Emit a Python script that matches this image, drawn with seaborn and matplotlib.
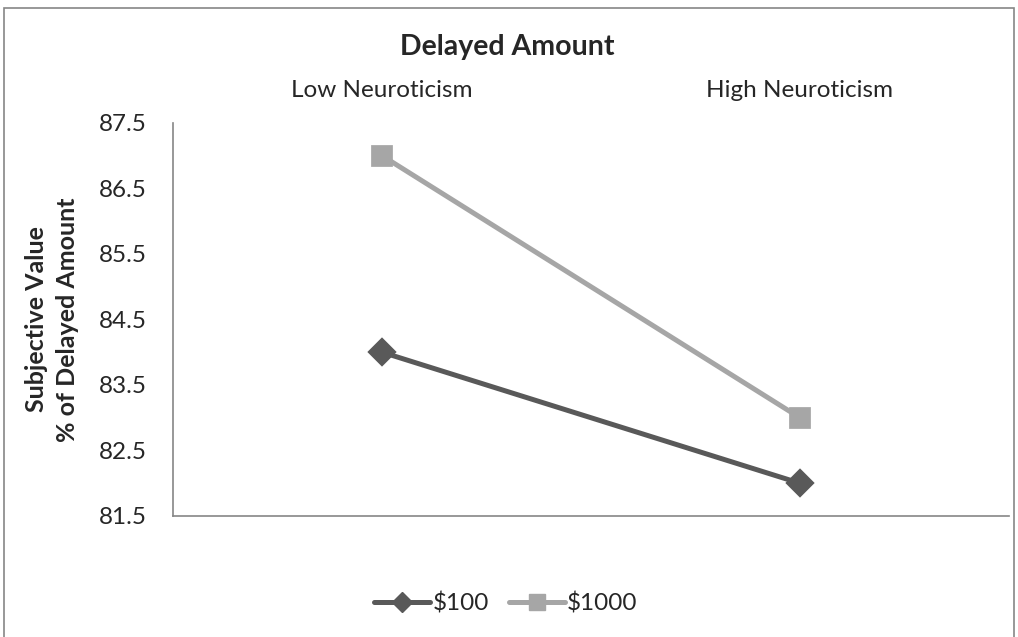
import numpy as np
import pandas as pd
import matplotlib
matplotlib.use("Agg")
import matplotlib.pyplot as plt
import seaborn as sns
from matplotlib.patches import Rectangle
from matplotlib.lines import Line2D

groups = ["Low Neuroticism", "High Neuroticism"]
amounts = ["$100", "$1000"]
values_100 = [84.0, 82.0]
values_1000 = [87.0, 83.0]
y_ticks = [81.5, 82.5, 83.5, 84.5, 85.5, 86.5, 87.5]

colors = ["#595959", "#A6A6A6"]
markers = ["D", "s"]

df = pd.DataFrame({
    "Group": groups * 2,
    "Amount": [amounts[0]] * 2 + [amounts[1]] * 2,
    "Value": values_100 + values_1000,
})

sns.set_theme(style="white")
plt.rcParams["font.family"] = ["Lato", "DejaVu Sans"]
fs = 17.5

fig = plt.figure(figsize=(10.18, 6.37), dpi=100)
ax = fig.add_axes([0.170, 0.190, 0.821, 0.617])

for i, amt in enumerate(amounts):
    sub = df[df["Amount"] == amt]
    sns.pointplot(data=sub, x="Group", y="Value", order=groups, color=colors[i],
                  marker=markers[i], markersize=13 if markers[i] == "s" else 12,
                  linewidth=3.6, ax=ax, errorbar=None)

ax.set_xlim(-0.5, 1.5)
ax.set_ylim(81.5, 87.5)
ax.set_yticks(y_ticks)
ax.set_yticklabels([f"{t:.1f}" for t in y_ticks], fontsize=fs)
ax.xaxis.tick_top()
ax.set_xticks(range(len(groups)))
ax.set_xticklabels(groups, fontsize=fs)
ax.tick_params(axis="x", length=0, pad=16)
ax.tick_params(axis="y", length=0, pad=19)
ax.set_xlabel("")
ax.set_ylabel("Subjective Value\n% of Delayed Amount", fontsize=18, fontweight="bold",
              labelpad=14, linespacing=1.45)

for side in ["top", "right"]:
    ax.spines[side].set_visible(False)
for side in ["left", "bottom"]:
    ax.spines[side].set_color("#868686")
    ax.spines[side].set_linewidth(1.2)

fig.text(0.498, 0.926, "Delayed Amount", ha="center", va="center", fontsize=20.5, fontweight="bold")

handles = [Line2D([0], [0], color=colors[i], marker=markers[i], lw=3.6,
                  markersize=11 if markers[i] == "s" else 10)
           for i in range(len(amounts))]
fig.legend(handles, amounts, loc="center", bbox_to_anchor=(0.497, 0.053), ncol=2,
           frameon=False, fontsize=fs, handlelength=2.3, handletextpad=0.1, columnspacing=0.8)

fig.patches.append(Rectangle((0.004, -0.01), 0.992, 0.997, transform=fig.transFigure,
                             fill=False, edgecolor="#868686", linewidth=1.2))

fig.savefig("out.png", dpi=100)
